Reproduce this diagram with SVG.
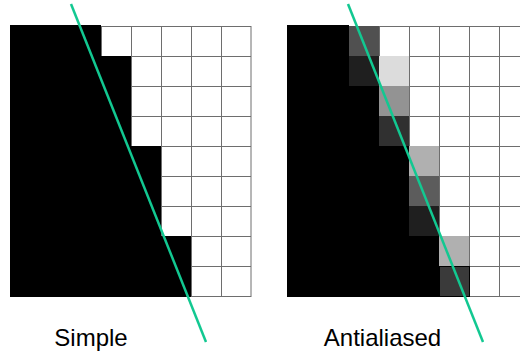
<svg xmlns="http://www.w3.org/2000/svg" width="520" height="356" viewBox="0 0 520 356">
<style>
.grid{stroke:#6e6e6e;stroke-width:1;fill:none}
.ink{fill:#000}
.ray{stroke:#12c891;stroke-width:2.5;stroke-linecap:butt}
.lbl{font-family:"Liberation Sans",Arial,sans-serif;font-size:24px;fill:#000;text-anchor:middle}
</style>
<rect width="520" height="356" fill="#fff"/>
<g id="simple">
<g class="grid">
<path d="M41.5 26V296M71.5 26V296M101.5 26V296M131.5 26V296M161.5 26V296M191.5 26V296M221.5 26V296M251 26V297"/>
<path d="M10 26.5H251M10 56.5H251M10 86.5H251M10 116.5H251M10 146.5H251M10 176.5H251M10 206.5H251M10 236.5H251M10 266.5H251M10 296.5H251"/>
</g>
<polygon class="ink" points="10,25 101,25 101,56 131,56 131,146 161,146 161,236 191,236 191,297 10,297"/>
<line class="ray" x1="71" y1="4" x2="206" y2="342"/>
<text class="lbl" x="91" y="346">Simple</text>
</g>
<g id="antialiased">
<g class="grid">
<path d="M319.5 26V296M349.5 26V296M379.5 26V296M409.5 26V296M439.5 26V296M469.5 26V296M499.5 26V296"/>
<path d="M287 26.5H520M287 56.5H520M287 86.5H520M287 116.5H520M287 146.5H520M287 176.5H520M287 206.5H520M287 236.5H520M287 266.5H520M287 296.5H520"/>
</g>
<polygon class="ink" points="287,25 349,25 349,86 379,86 379,146 409,146 409,236 439,236 439,297 287,297"/>
<rect x="349" y="26" width="30" height="30" fill="#505050"/>
<rect x="349" y="56" width="30" height="30" fill="#1f1f1f"/>
<rect x="379" y="56" width="30" height="30" fill="#dcdcdc"/>
<rect x="379" y="86" width="30" height="30" fill="#939393"/>
<rect x="379" y="116" width="30" height="30" fill="#303030"/>
<rect x="409" y="146" width="30" height="30" fill="#b0b0b0"/>
<rect x="409" y="176" width="30" height="30" fill="#5c5c5c"/>
<rect x="409" y="206" width="30" height="30" fill="#1f1f1f"/>
<rect x="439" y="236" width="30" height="30" fill="#b0b0b0"/>
<rect x="439.5" y="266.5" width="30" height="30" fill="#3a3a3a" stroke="#000" stroke-width="1"/>
<line class="ray" x1="348" y1="4" x2="483" y2="342"/>
<text class="lbl" x="382.5" y="346">Antialiased</text>
</g>
</svg>
